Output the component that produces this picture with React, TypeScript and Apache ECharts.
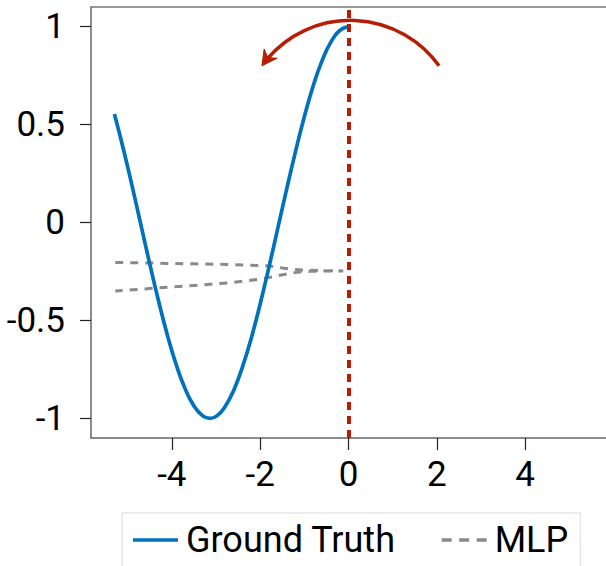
import React, { useEffect, useRef } from "react";
import * as echarts from "echarts";

const xTicks = [-4, -2, 0, 2, 4];
const yTicks = [-1, -0.5, 0, 0.5, 1];

const truthX = [-5.3, -5.1, -4.9, -4.7, -4.5, -4.3, -4.1, -3.9, -3.7, -3.5, -3.3, -3.14, -2.98, -2.8, -2.6, -2.4, -2.2, -2.0, -1.8, -1.6, -1.4, -1.2, -1.0, -0.8, -0.6, -0.4, -0.2, 0];
const truthY = [0.554, 0.378, 0.187, -0.012, -0.211, -0.401, -0.575, -0.726, -0.848, -0.936, -0.987, -1.0, -0.987, -0.942, -0.857, -0.737, -0.589, -0.416, -0.227, -0.029, 0.17, 0.362, 0.54, 0.697, 0.825, 0.921, 0.98, 1.0];

const mlpX = [-5.28, -4.5, -3.5, -2.75, -2.2, -1.78, -1.5, -1.32, -1.0, -0.64, -0.12, -0.5, -0.87, -1.1, -1.32, -1.6, -2.0, -2.68, -3.5, -4.5, -5.28];
const mlpY = [-0.204, -0.207, -0.211, -0.214, -0.218, -0.222, -0.232, -0.238, -0.243, -0.246, -0.247, -0.247, -0.249, -0.253, -0.259, -0.272, -0.289, -0.308, -0.321, -0.337, -0.35];

const arrowStart = [2.05, 0.8];
const arrowApex = [0.03, 1.032];
const arrowEnd = [-1.96, 0.8];

const FONT = "Roboto";
const RED = "#B81C05";
const BLUE = "#0072BD";
const GRAY = "#8a8a8a";

const solidIcon = "path://M0,0H45V3.5H0Z";
const dashIcon = "path://M0,0H10V3.5H0Z M17.5,0H27.5V3.5H17.5Z M35,0H45V3.5H35Z";

export default function App() {
  const ref = useRef<HTMLDivElement>(null);
  useEffect(() => {
    if (!ref.current) return;
    const chart = echarts.init(ref.current, undefined, { renderer: "svg" });
    const option: any = {
      animation: false,
      backgroundColor: "#fff",
      grid: { left: 91, top: 7, width: 515, height: 431, containLabel: false },
      xAxis: [
        {
          type: "value",
          min: -5.83,
          max: 5.83,
          axisLine: { show: true, onZero: false, lineStyle: { color: "#666", width: 1.5 } },
          axisTick: { show: true, length: 12, customValues: xTicks, lineStyle: { color: "#222", width: 1.2 } },
          axisLabel: { customValues: xTicks, margin: 19, fontSize: 35, fontFamily: FONT, color: "#000" },
          splitLine: { show: false },
        },
        {
          type: "value",
          position: "top",
          min: -5.83,
          max: 5.83,
          axisLine: { show: true, onZero: false, lineStyle: { color: "#777", width: 1.5 } },
          axisTick: { show: false },
          axisLabel: { show: false },
          splitLine: { show: false },
        },
      ],
      yAxis: {
        type: "value",
        min: -1.1,
        max: 1.1,
        axisLine: { show: true, onZero: false, lineStyle: { color: "#666", width: 1.5 } },
        axisTick: { show: true, length: 11, customValues: yTicks, lineStyle: { color: "#222", width: 1.2 } },
        axisLabel: { customValues: yTicks, margin: 26, fontSize: 35, fontFamily: FONT, color: "#000" },
        splitLine: { show: false },
      },
      legend: {
        left: 122,
        top: 513,
        orient: "horizontal",
        borderColor: "#d9d9d9",
        borderWidth: 1,
        padding: [7, 12, 22, 11],
        itemWidth: 45,
        itemHeight: 3.5,
        itemGap: 46,
        textStyle: { fontSize: 36, fontFamily: FONT, color: "#000", lineHeight: 40, padding: [0, 0, 0, 3] },
        data: [
          { name: "Ground Truth", icon: solidIcon, itemStyle: { color: BLUE } },
          { name: "MLP", icon: dashIcon, itemStyle: { color: GRAY } },
        ],
      },
      series: [
        {
          name: "Ground Truth",
          type: "line",
          symbol: "none",
          smooth: true,
          data: truthX.map((x, i) => [x, truthY[i]]),
          lineStyle: { color: BLUE, width: 3.7 },
          itemStyle: { color: BLUE },
          z: 3,
          markLine: {
            silent: true,
            symbol: ["none", "none"],
            label: { show: false },
            data: [{ xAxis: 0 }],
            lineStyle: { color: RED, width: 4, type: [8, 6] },
            z: 4,
          },
        },
        {
          name: "MLP",
          type: "line",
          symbol: "none",
          smooth: false,
          data: mlpX.map((x, i) => [x, mlpY[i]]),
          lineStyle: { color: GRAY, width: 3, type: [8, 7] },
          itemStyle: { color: GRAY },
          z: 2,
        },
      ],
    };
    chart.setOption(option);

    const p1 = chart.convertToPixel({ seriesIndex: 0 }, arrowStart) as number[];
    const p2 = chart.convertToPixel({ seriesIndex: 0 }, arrowApex) as number[];
    const p3 = chart.convertToPixel({ seriesIndex: 0 }, arrowEnd) as number[];
    const [ax, ay] = p1, [bx, by] = p2, [cx0, cy0] = p3;
    const d = 2 * (ax * (by - cy0) + bx * (cy0 - ay) + cx0 * (ay - by));
    const ux = ((ax * ax + ay * ay) * (by - cy0) + (bx * bx + by * by) * (cy0 - ay) + (cx0 * cx0 + cy0 * cy0) * (ay - by)) / d;
    const uy = ((ax * ax + ay * ay) * (cx0 - bx) + (bx * bx + by * by) * (ax - cx0) + (cx0 * cx0 + cy0 * cy0) * (bx - ax)) / d;
    const r = Math.hypot(ax - ux, ay - uy);
    const aStart = Math.atan2(ay - uy, ax - ux);
    const aEnd = Math.atan2(cy0 - uy, cx0 - ux);
    const headLen = 15;
    const aEndArc = aEnd + 9 / r;
    const dir = [Math.sin(aEnd), -Math.cos(aEnd)];
    const nrm = [-dir[1], dir[0]];
    const tip = [cx0, cy0];
    const back = (len: number, off: number) => [
      tip[0] - dir[0] * len + nrm[0] * off,
      tip[1] - dir[1] * len + nrm[1] * off,
    ];
    chart.setOption({
      graphic: [
        {
          type: "arc",
          z: 100,
          shape: { cx: ux, cy: uy, r, startAngle: aEndArc, endAngle: aStart, clockwise: true },
          style: { stroke: RED, lineWidth: 3.5, fill: "none" },
        },
        {
          type: "polygon",
          z: 101,
          shape: { points: [tip, back(headLen, -8), back(10, 0), back(headLen, 8)] },
          style: { fill: RED, stroke: RED, lineWidth: 1 },
        },
      ],
    });

    return () => chart.dispose();
  }, []);
  return (
    <div
      ref={ref}
      style={{ position: "fixed", left: 0, top: 0, width: 606, height: 566, background: "#fff" }}
    />
  );
}
